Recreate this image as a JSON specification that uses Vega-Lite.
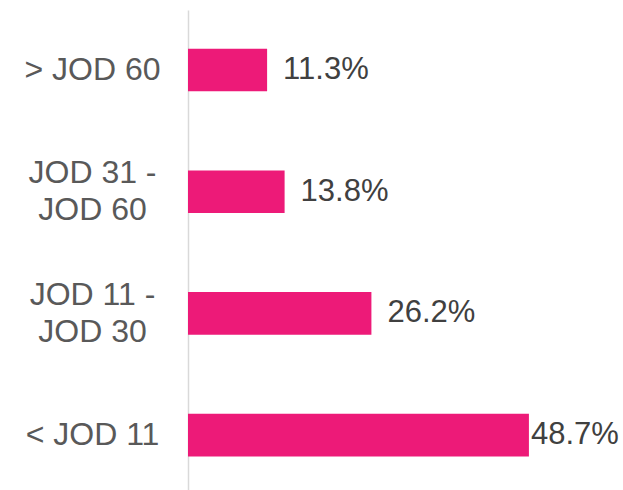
{
  "$schema": "https://vega.github.io/schema/vega-lite/v6.json",
  "autosize": {"type": "none"},
  "padding": {"left": 188, "top": 10, "right": 0, "bottom": 0},
  "width": 435,
  "height": 480,
  "background": "white",
  "config": {"view": {"stroke": null}, "font": "Liberation Sans"},
  "data": {
    "values": [
      {"band": "> JOD 60", "share": 11.3, "label": "11.3%"},
      {"band": "JOD 31 - JOD 60", "share": 13.8, "label": "13.8%"},
      {"band": "JOD 11 - JOD 30", "share": 26.2, "label": "26.2%"},
      {"band": "< JOD 11", "share": 48.7, "label": "48.7%"}
    ]
  },
  "encoding": {
    "y": {
      "field": "band",
      "type": "nominal",
      "sort": null,
      "scale": {"paddingInner": 0.65, "paddingOuter": 0.297, "align": 0.535},
      "axis": {
        "title": null,
        "ticks": false,
        "tickSize": 0,
        "domainColor": "#D9D9D9",
        "domainWidth": 1.5,
        "labelAlign": "center",
        "labelBaseline": "middle",
        "labelPadding": 96,
        "labelFont": "Liberation Sans",
        "labelFontSize": 32,
        "labelColor": "#595959",
        "labelLineHeight": 37,
        "labelLimit": 0,
        "labelOffset": {"condition": {"test": "indexof(datum.value, ' - ') > 0", "value": -18.5}, "value": 0},
        "labelExpr": "indexof(datum.value, ' - ') > 0 ? [slice(datum.value, 0, indexof(datum.value, ' - ') + 2), slice(datum.value, indexof(datum.value, ' - ') + 3)] : datum.value"
      }
    },
    "x": {
      "field": "share",
      "type": "quantitative",
      "scale": {"domain": [0, 62.14], "nice": false, "zero": true},
      "axis": null
    }
  },
  "layer": [
    {"mark": {"type": "bar", "color": "#ED1A78"}},
    {
      "transform": [{"filter": "datum.share < 40"}],
      "mark": {"type": "text", "align": "left", "baseline": "middle", "dx": 16, "fontSize": 31, "color": "#404040", "font": "Liberation Sans"},
      "encoding": {"text": {"field": "label"}}
    },
    {
      "transform": [{"filter": "datum.share >= 40"}],
      "mark": {"type": "text", "align": "left", "baseline": "middle", "dx": 2, "fontSize": 31, "color": "#404040", "font": "Liberation Sans"},
      "encoding": {"text": {"field": "label"}}
    }
  ]
}
